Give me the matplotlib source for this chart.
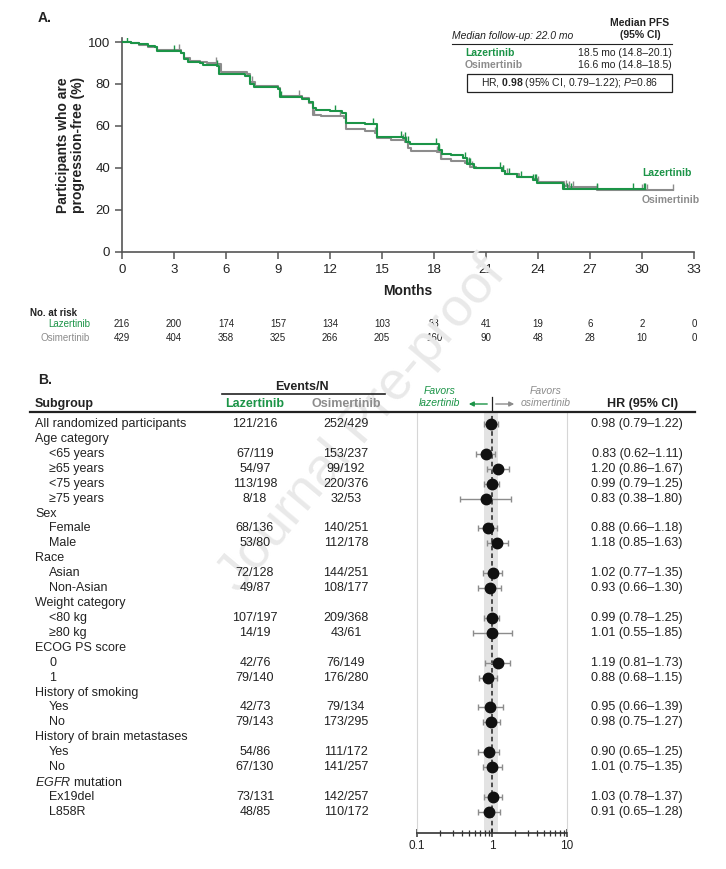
import numpy as np
import matplotlib
matplotlib.use("Agg")
import matplotlib.pyplot as plt
from matplotlib import transforms
from matplotlib.patches import Rectangle
from matplotlib.lines import Line2D
from matplotlib.path import Path

plt.rcParams['font.family'] = ['Liberation Sans', 'DejaVu Sans']
plt.rcParams['mathtext.fontset'] = 'custom'
plt.rcParams['mathtext.rm'] = 'Liberation Sans'
plt.rcParams['mathtext.it'] = 'Liberation Sans:italic'
plt.rcParams['mathtext.bf'] = 'Liberation Sans:bold'

GREEN = '#1b9447'
GRAY = '#8c8c8c'
DARK = '#222222'

# ---------------- Panel A data ----------------
laz_t = [0, 0.5, 1.0, 1.5, 1.9, 2.0, 3.4, 3.6, 3.8, 4.5, 4.7, 5.5, 5.6, 7.1, 7.4, 7.6, 9.0, 9.1,
         10.4, 10.8, 11.0, 11.2, 12.0, 12.7, 12.9, 14.0, 14.6, 14.7, 16.2, 16.4, 16.6, 18.3, 18.45,
         19.0, 19.7, 19.9, 20.3, 21.9, 22.1, 22.8, 23.7, 23.95, 25.45, 30.2]
laz_s = [100, 99.5, 99, 98, 97.5, 95.5, 94.6, 92, 90.5, 90, 89, 88.5, 84.6, 84, 80, 78.7, 77.6, 74,
         73, 71.6, 68.4, 67.6, 67, 66.3, 61.3, 61, 60.8, 54.6, 54.1, 52.5, 51.4, 48.5, 46.7,
         46, 44.6, 42, 39.8, 38.5, 37.1, 35.6, 34.5, 32.7, 30, 30]
osi_t = [0, 0.5, 1.0, 1.5, 2.0, 3.4, 3.6, 3.9, 4.5, 4.9, 5.5, 5.7, 7.2, 7.4, 7.7, 9.0, 9.1, 10.4,
         10.8, 11.0, 11.5, 12.8, 12.9, 14.0, 14.6, 14.7, 15.5, 16.3, 16.5, 16.7, 18.2, 18.4, 19.0,
         19.8, 20.1, 20.4, 21.9, 22.1, 22.9, 23.7, 24.0, 25.5, 25.8, 27.4, 31.8]
osi_s = [100, 99.3, 98.5, 97.8, 96, 95, 92.5, 91, 90.5, 90, 89.3, 85.5, 84.6, 81, 79, 78.2, 74.5, 73.5,
         71, 65.2, 64.8, 63.8, 58.6, 57.8, 56.8, 54.1, 53.5, 52.5, 49.5, 48.2, 47.5, 44.5, 43.5,
         42.5, 40.5, 39.8, 38.5, 37.1, 35.6, 34.8, 33.5, 31.5, 31.1, 29.5, 29.5]
laz_cens = [0.3, 3.0, 5.5, 9.2, 12.3, 14.5, 16.1, 16.3, 16.5, 18.1, 18.3, 19.8, 19.9, 20.0, 20.1,
            21.8, 22.0, 22.3, 23.0, 23.7, 23.8, 23.9, 25.5, 25.7, 25.9, 27.4, 29.5, 30.1, 30.2]
osi_cens = [3.3, 5.4, 7.5, 10.2, 11.1, 12.6, 14.6, 16.2, 16.4, 18.2, 18.4, 20.0, 20.2, 22.0, 22.2,
            24.0, 25.6, 25.8, 26.0, 27.4, 30.0, 30.3, 31.8]

risk_times = [0, 3, 6, 9, 12, 15, 18, 21, 24, 27, 30, 33]
risk_laz = [216, 200, 174, 157, 134, 103, 83, 41, 19, 6, 2, 0]
risk_osi = [429, 404, 358, 325, 266, 205, 160, 90, 48, 28, 10, 0]

# ---------------- Panel B data ----------------
sub_labels = ["All randomized participants", "Age category", "<65 years", "≥65 years", "<75 years",
              "≥75 years", "Sex", "Female", "Male", "Race", "Asian", "Non-Asian", "Weight category",
              "<80 kg", "≥80 kg", "ECOG PS score", "0", "1", "History of smoking", "Yes", "No",
              "History of brain metastases", "Yes", "No", r"$\mathit{EGFR}$ mutation", "Ex19del", "L858R"]
sub_indent = [0, 0, 1, 1, 1, 1, 0, 1, 1, 0, 1, 1, 0, 1, 1, 0, 1, 1, 0, 1, 1, 0, 1, 1, 0, 1, 1]
laz_events = ["121/216", "", "67/119", "54/97", "113/198", "8/18", "", "68/136", "53/80", "",
              "72/128", "49/87", "", "107/197", "14/19", "", "42/76", "79/140", "", "42/73", "79/143",
              "", "54/86", "67/130", "", "73/131", "48/85"]
osi_events = ["252/429", "", "153/237", "99/192", "220/376", "32/53", "", "140/251", "112/178", "",
              "144/251", "108/177", "", "209/368", "43/61", "", "76/149", "176/280", "", "79/134",
              "173/295", "", "111/172", "141/257", "", "142/257", "110/172"]
hr = [0.98, None, 0.83, 1.20, 0.99, 0.83, None, 0.88, 1.18, None, 1.02, 0.93, None, 0.99, 1.01,
      None, 1.19, 0.88, None, 0.95, 0.98, None, 0.90, 1.01, None, 1.03, 0.91]
ci_lo = [0.79, None, 0.62, 0.86, 0.79, 0.38, None, 0.66, 0.85, None, 0.77, 0.66, None, 0.78, 0.55,
         None, 0.81, 0.68, None, 0.66, 0.75, None, 0.65, 0.75, None, 0.78, 0.65]
ci_hi = [1.22, None, 1.11, 1.67, 1.25, 1.80, None, 1.18, 1.63, None, 1.35, 1.30, None, 1.25, 1.85,
         None, 1.73, 1.15, None, 1.39, 1.27, None, 1.25, 1.35, None, 1.37, 1.28]

W, H = 726, 869
fig = plt.figure(figsize=(W / 100, H / 100), dpi=100)


def fx(x):
    return x / W


def fy(y):
    return 1 - y / H


def ftext(x, y, s, **kw):
    kw.setdefault('color', DARK)
    kw.setdefault('va', 'center')
    fig.text(fx(x), fy(y), s, **kw)


def fline(x0, x1, y0, y1, **kw):
    fig.add_artist(Line2D([fx(x0), fx(x1)], [fy(y0), fy(y1)], transform=fig.transFigure, **kw))


# watermark
fig.text(fx(362), fy(425), "Journal Pre-proof", rotation=50, fontsize=39, color='#e9e9e9',
         ha='center', va='center', zorder=0)

# ---------------- Panel A ----------------
x0, x33 = 122, 694
y0px = 252
pxpct = 2.1
axA = fig.add_axes([fx(x0), fy(y0px), (x33 - x0) / W, 102 * pxpct / H])
axA.set_xlim(0, 33)
axA.set_ylim(0, 102)
axA.patch.set_alpha(0)


def step_val(ts, ss, t):
    i = np.searchsorted(ts, t, side='right') - 1
    return np.asarray(ss)[i]


tick_up = Path([(0, 0), (0, 1)])
axA.step(osi_t, osi_s, where='post', color=GRAY, lw=1.5, zorder=3)
axA.step(laz_t, laz_s, where='post', color=GREEN, lw=1.5, zorder=4)
axA.plot(osi_cens, [step_val(osi_t, osi_s, t) for t in osi_cens], ls='none', marker=tick_up,
         ms=9, mew=1.0, color=GRAY, zorder=3)
axA.plot(laz_cens, [step_val(laz_t, laz_s, t) for t in laz_cens], ls='none', marker=tick_up,
         ms=9, mew=1.0, color=GREEN, zorder=4)

for sp in ['top', 'right']:
    axA.spines[sp].set_visible(False)
for sp in ['left', 'bottom']:
    axA.spines[sp].set_color('#555555')
    axA.spines[sp].set_linewidth(1.2)
axA.set_xticks(risk_times)
axA.set_yticks([0, 20, 40, 60, 80, 100])
axA.tick_params(axis='both', labelsize=9.5, colors='#555555', labelcolor=DARK, length=5, width=1.1)
axA.set_xlabel("Months", fontsize=10, fontweight='bold', color=DARK, labelpad=6)
axA.set_ylabel("Participants who are\nprogression-free (%)", fontsize=10, fontweight='bold',
               color=DARK, labelpad=2, linespacing=1.1)

ftext(38, 18, "A.", fontsize=10, fontweight='bold')

# legend block
ftext(452, 36, "Median follow-up: 22.0 mo", fontsize=7.5, style='italic', ha='left')
ftext(640, 29, "Median PFS\n(95% CI)", fontsize=7.5, fontweight='bold', ha='center', linespacing=1.15)
fline(452, 672, 44, 44, color=DARK, lw=0.8)
ftext(465, 53, "Lazertinib", fontsize=7.5, fontweight='bold', color=GREEN, ha='left')
ftext(672, 53, "18.5 mo (14.8–20.1)", fontsize=7.5, ha='right')
ftext(465, 65, "Osimertinib", fontsize=7.5, fontweight='bold', color=GRAY, ha='left')
ftext(672, 65, "16.6 mo (14.8–18.5)", fontsize=7.5, ha='right')
fig.add_artist(Rectangle((fx(467), fy(92)), (672 - 467) / W, 18 / H, transform=fig.transFigure,
                         fill=False, ec=DARK, lw=0.9))
ftext(570, 83, r"HR, $\mathbf{0.98}$ (95% CI, 0.79–1.22); $\mathit{P}$=0.86", fontsize=7.5, ha='center')

ftext(642, 173, "Lazertinib", fontsize=7.5, fontweight='bold', color=GREEN, ha='left')
ftext(642, 200, "Osimertinib", fontsize=7.5, fontweight='bold', color=GRAY, ha='left')

# risk table
ftext(30, 313, "No. at risk", fontsize=7, fontweight='bold', ha='left')
ftext(90, 324, "Lazertinib", fontsize=7, color=GREEN, ha='right')
ftext(90, 338, "Osimertinib", fontsize=7, color=GRAY, ha='right')
trA = transforms.blended_transform_factory(axA.transData, fig.transFigure)
for t, a, b in zip(risk_times, risk_laz, risk_osi):
    axA.text(t, fy(324), str(a), transform=trA, fontsize=7, ha='center', va='center', color=DARK)
    axA.text(t, fy(338), str(b), transform=trA, fontsize=7, ha='center', va='center', color=DARK)

# ---------------- Panel B ----------------
ftext(38, 380, "B.", fontsize=10, fontweight='bold')
ftext(302, 387, "Events/N", fontsize=9, fontweight='bold', ha='center')
fline(222, 385, 394, 394, color=DARK, lw=1.2)
ftext(35, 404, "Subgroup", fontsize=9, fontweight='bold', ha='left')
ftext(255, 404, "Lazertinib", fontsize=9, fontweight='bold', color=GREEN, ha='center')
ftext(346, 404, "Osimertinib", fontsize=9, fontweight='bold', color=GRAY, ha='center')
ftext(643, 404, "HR (95% CI)", fontsize=9, fontweight='bold', ha='center')
ftext(440, 397, "Favors\nlazertinib", fontsize=7.5, style='italic', color=GREEN, ha='center',
      linespacing=1.3)
ftext(546, 397, "Favors\nosimertinib", fontsize=7.5, style='italic', color=GRAY, ha='center',
      linespacing=1.3)
fig.add_artist(matplotlib.patches.FancyArrowPatch((fx(490), fy(404)), (fx(466), fy(404)),
               transform=fig.transFigure, arrowstyle='-|>', mutation_scale=7, color=GREEN, lw=1.0))
fig.add_artist(matplotlib.patches.FancyArrowPatch((fx(493), fy(404)), (fx(517), fy(404)),
               transform=fig.transFigure, arrowstyle='-|>', mutation_scale=7, color=GRAY, lw=1.0))
fline(491.5, 491.5, 397, 411, color=DARK, lw=0.9)
fline(30, 695, 412, 412, color=DARK, lw=1.6)

row0, rowstep = 424, 14.92
top_px, bot_px = 412, 833
axB = fig.add_axes([fx(417), fy(bot_px), 150 / W, (bot_px - top_px) / H])
axB.set_xscale('log')
axB.set_xlim(0.1, 10)
axB.set_ylim((bot_px - row0) / rowstep, (top_px - row0) / rowstep)
axB.patch.set_alpha(0)
axB.axvspan(ci_lo[0], ci_hi[0], color='#e3e3e3', zorder=0, lw=0)
axB.axvline(1, color=DARK, ls=(0, (3, 2)), lw=1.1, zorder=2)
for i, (h, lo, hi) in enumerate(zip(hr, ci_lo, ci_hi)):
    if h is None:
        continue
    axB.errorbar([h], [i], xerr=[[h - lo], [hi - h]], fmt='o', color=GRAY, ecolor=GRAY,
                 elinewidth=1.0, capsize=2.5, capthick=1.0, mfc='#111111', mec='#111111', ms=7.5,
                 zorder=3)
axB.spines['top'].set_visible(False)
axB.spines['left'].set_color('#d6d6d6')
axB.spines['right'].set_color('#d6d6d6')
axB.spines['bottom'].set_color('#333333')
axB.spines['bottom'].set_linewidth(1.2)
axB.set_yticks([])
axB.set_xticks([0.1, 1, 10])
axB.set_xticklabels(["0.1", "1", "10"])
axB.tick_params(axis='x', which='major', direction='inout', length=6, width=1.1, labelsize=8.5,
                colors='#333333', labelcolor=DARK, pad=2)
axB.tick_params(axis='x', which='minor', direction='inout', length=4, width=0.9, colors='#333333')

trB = transforms.blended_transform_factory(fig.transFigure, axB.transData)
for i, lab in enumerate(sub_labels):
    xl = 49 if sub_indent[i] else 35
    fig.text(fx(xl), i, lab, transform=trB, fontsize=9, ha='left', va='center', color=DARK)
    if laz_events[i]:
        fig.text(fx(255), i, laz_events[i], transform=trB, fontsize=9, ha='center', va='center',
                 color=DARK)
        fig.text(fx(346), i, osi_events[i], transform=trB, fontsize=9, ha='center', va='center',
                 color=DARK)
    if hr[i] is not None:
        fig.text(fx(637), i, f"{hr[i]:.2f} ({ci_lo[i]:.2f}–{ci_hi[i]:.2f})", transform=trB,
                 fontsize=9, ha='center', va='center', color=DARK)

fig.savefig("out.png", dpi=100)
